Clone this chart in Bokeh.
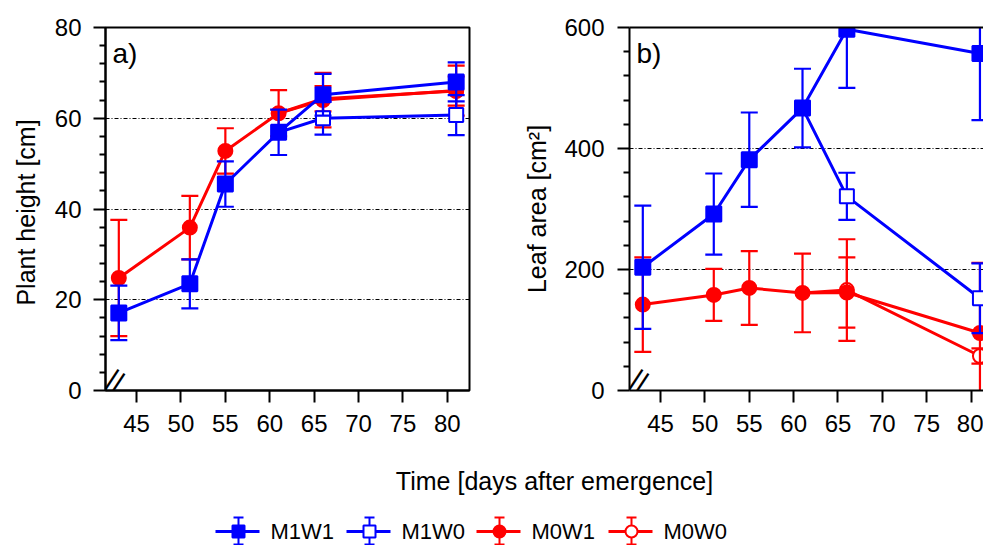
from bokeh.plotting import figure
from bokeh.models import Range1d, FixedTicker, LinearAxis, Label
from bokeh.layouts import column, row
from bokeh.embed import file_html
from bokeh.resources import INLINE
from bokeh.core.properties import value

# ---------------- data ----------------
days = [43, 51, 55, 61, 66, 81]
days_w0 = [66, 81]
split_day = 61
series_names = ["M1W1", "M1W0", "M0W1", "M0W0"]
x_ticks = [45, 50, 55, 60, 65, 70, 75, 80]

# Panel a: plant height [cm]
h_m1w1 = [17.1, 23.5, 45.5, 56.9, 65.2, 68.0]
h_m1w1_err = [6.0, 5.4, 5.0, 5.0, 4.6, 4.3]
h_m1w0 = [60.0, 60.7]
h_m1w0_err = [3.6, 4.4]
h_m0w1 = [24.8, 35.9, 52.8, 61.1, 64.0, 66.1]
h_m0w1_err = [12.8, 7.0, 5.0, 5.1, 6.0, 5.5]
h_m0w0 = [64.3, 66.0]
h_m0w0_err = [2.8, 3.2]
h_ticks = [0, 20, 40, 60, 80]
h_minor = [4, 8, 12, 16, 24, 28, 32, 36, 44, 48, 52, 56, 64, 68, 72, 76]

# Panel b: leaf area [cm2]
la_m1w1 = [203.7, 291.7, 381.5, 466.8, 597.2, 557.0]
la_m1w1_err = [102, 67, 78, 65, 97, 110]
la_m1w0 = [320.9, 152.5]
la_m1w0_err = [39, 57.5]
la_m0w1 = [142, 158, 169.5, 161.3, 162, 95]
la_m0w1_err = [78, 43, 61, 65, 58, 116]
la_m0w0 = [166, 57]
la_m0w0_err = [84, 12.5]
la_ticks = [0, 200, 400, 600]
la_minor = [40, 80, 120, 160, 240, 280, 320, 360, 440, 480, 520, 560]

BLUE = "#0000ff"
RED = "#ff0000"
FONT = "Liberation Sans"
TICK_FS = "24px"


def draw_series(p, xs, ys, errs, color, marker, fill, lx, ly, msize):
    p.line(lx, ly, line_color=color, line_width=3)
    lo = [y - e for y, e in zip(ys, errs)]
    hi = [y + e for y, e in zip(ys, errs)]
    p.segment(x0=xs, y0=lo, x1=xs, y1=hi, line_color=color, line_width=2.2)
    p.scatter(xs, lo, marker="dash", size=17, line_color=color, line_width=2.2)
    p.scatter(xs, hi, marker="dash", size=17, line_color=color, line_width=2.2)
    p.scatter(xs, ys, marker=marker, size=msize, fill_color=fill,
              line_color=color, line_width=2)


def w0_line(w1, w0):
    i = days.index(split_day)
    return [days[i]] + days_w0, [w1[i]] + w0


def make_panel(width, bl, br, xr, yr, yticks, yminor, ylabel, lab_standoff,
               tick_standoff, letter, full_outline):
    p = figure(width=width, height=448, x_range=Range1d(*xr), y_range=Range1d(*yr),
               output_backend="svg", toolbar_location=None,
               min_border_left=bl, min_border_right=br,
               min_border_top=27, min_border_bottom=58)
    p.background_fill_color = "white"
    p.border_fill_color = "white"
    p.xgrid.visible = False
    p.ygrid.ticker = FixedTicker(ticks=yticks)
    p.ygrid.grid_line_color = "black"
    p.ygrid.grid_line_width = 1
    p.ygrid.grid_line_dash = "4 2 1 2"

    xa = p.below[0]
    xa.ticker = FixedTicker(ticks=x_ticks)
    xa.major_tick_in = 0
    xa.major_tick_out = 12
    xa.minor_tick_out = 0
    xa.minor_tick_in = 0
    xa.major_tick_line_width = 2
    xa.axis_line_width = 2
    xa.major_label_text_font = FONT
    xa.major_label_text_font_size = TICK_FS
    xa.major_label_text_color = "black"
    xa.major_label_standoff = 12

    ya = p.left[0]
    ya.ticker = FixedTicker(ticks=yticks, minor_ticks=yminor)
    ya.major_tick_in = 0
    ya.major_tick_out = 12
    ya.minor_tick_in = 0
    ya.minor_tick_out = 6
    ya.major_tick_line_width = 2
    ya.minor_tick_line_width = 2
    ya.axis_line_width = 2
    ya.major_label_text_font = FONT
    ya.major_label_text_font_size = TICK_FS
    ya.major_label_text_color = "black"
    ya.major_label_standoff = tick_standoff
    ya.axis_label = ylabel
    ya.axis_label_text_font = FONT
    ya.axis_label_text_font_size = "25px"
    ya.axis_label_text_font_style = "normal"
    ya.axis_label_text_color = "black"
    ya.axis_label_standoff = lab_standoff

    if full_outline:
        p.outline_line_color = "black"
        p.outline_line_width = 2
        p.outline_line_alpha = 1
    else:
        p.outline_line_color = None
        top = LinearAxis(ticker=FixedTicker(ticks=[]), major_tick_in=0, major_tick_out=0,
                         minor_tick_in=0, minor_tick_out=0, axis_line_width=2,
                         axis_line_color="black", major_label_standoff=0,
                         major_label_text_font_size="1px")
        p.add_layout(top, "above")

    p.add_layout(Label(x=xr[0], y=yr[1], x_offset=7, y_offset=-10, text=letter,
                       text_font=FONT, text_font_size="28px", text_baseline="top",
                       text_align="left", text_color="black"))
    # axis break mark (kept just inside the frame)
    p.add_layout(Label(x=xr[0], y=yr[0], x_offset=10, y_offset=10, text="||",
                       angle=-0.58, text_font=FONT, text_font_size="28px",
                       text_baseline="middle", text_align="center",
                       text_color="black"))
    return p


pa = make_panel(500, 105, 31, (41.5, 82.5), (0, 80), h_ticks, h_minor,
                "Plant height  [cm]", 12, 12, "a)", True)
pb = make_panel(483, 129, 0, (41.5, 81.4), (0, 600), la_ticks, la_minor,
                "Leaf area [cm²]", 10, 13, "b)", False)

for p, m1w1, m1w1e, m1w0, m1w0e, m0w1, m0w1e, m0w0, m0w0e in [
    (pa, h_m1w1, h_m1w1_err, h_m1w0, h_m1w0_err, h_m0w1, h_m0w1_err, h_m0w0, h_m0w0_err),
    (pb, la_m1w1, la_m1w1_err, la_m1w0, la_m1w0_err, la_m0w1, la_m0w1_err, la_m0w0, la_m0w0_err),
]:
    lx, ly = w0_line(m0w1, m0w0)
    draw_series(p, days_w0, m0w0, m0w0e, RED, "circle", "white", lx, ly, 14)
    draw_series(p, days, m0w1, m0w1e, RED, "circle", RED, days, m0w1, 14)
    lx, ly = w0_line(m1w1, m1w0)
    draw_series(p, days_w0, m1w0, m1w0e, BLUE, "square", "white", lx, ly, 14)
    draw_series(p, days, m1w1, m1w1e, BLUE, "square", BLUE, days, m1w1, 15)

# ---------------- bottom: common x label and legend ----------------
pl = figure(width=983, height=97, x_range=Range1d(0, 983), y_range=Range1d(545, 448),
            output_backend="svg", toolbar_location=None, x_axis_type=None,
            y_axis_type=None, min_border=0)
pl.outline_line_color = None
pl.grid.visible = False
pl.text(x=[554], y=[480], text=["Time [days after emergence]"],
        text_font=value(FONT), text_font_size="25px", text_align="center",
        text_baseline="middle", text_color="black")

leg_x = [238, 369, 499, 631]
leg_y = 531
leg_colors = [BLUE, BLUE, RED, RED]
leg_markers = ["square", "square", "circle", "circle"]
leg_fill = [BLUE, "white", RED, "white"]
for name, cx, c, mk, fc in zip(series_names, leg_x, leg_colors, leg_markers, leg_fill):
    pl.segment(x0=[cx - 23], y0=[leg_y], x1=[cx + 21], y1=[leg_y], line_color=c, line_width=3)
    pl.segment(x0=[cx], y0=[leg_y - 14], x1=[cx], y1=[leg_y + 13], line_color=c, line_width=2)
    pl.scatter([cx, cx], [leg_y - 14, leg_y + 13], marker="dash", size=10,
               line_color=c, line_width=2)
    pl.scatter([cx], [leg_y], marker=mk, size=12, fill_color=fc, line_color=c, line_width=2)
    pl.text(x=[cx + 32], y=[leg_y], text=[name], text_font=value(FONT),
            text_font_size="22px", text_align="left", text_baseline="middle",
            text_color="black")

layout = column(row(pa, pb, spacing=0), pl, spacing=0)
open("out.html", "w").write(file_html(layout, INLINE))
